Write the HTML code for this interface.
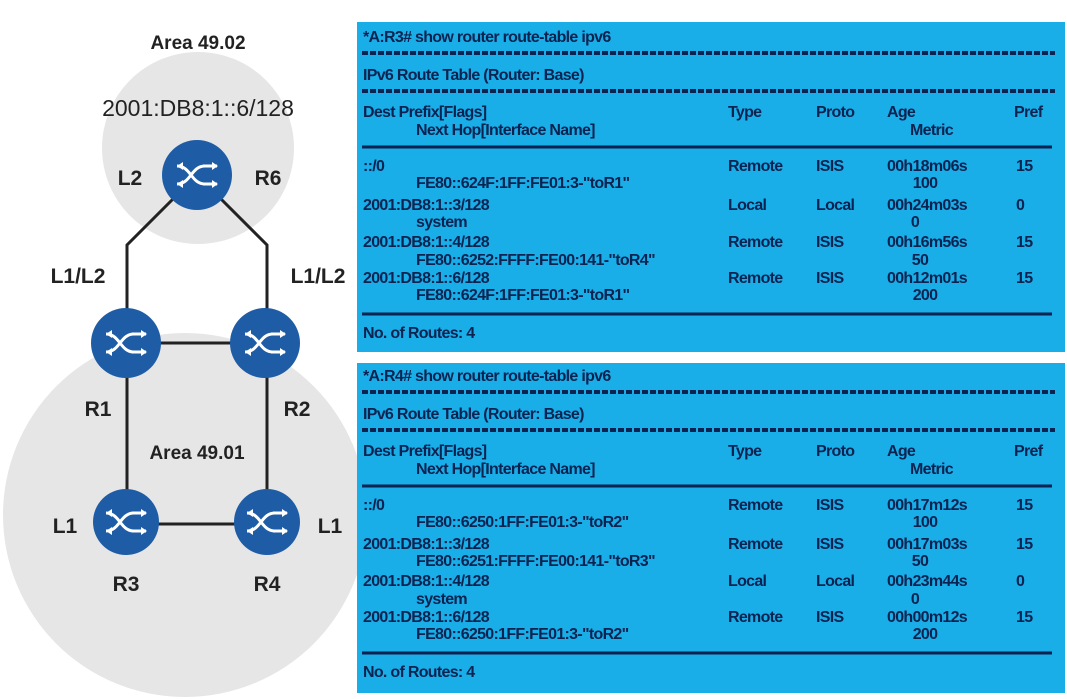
<!DOCTYPE html>
<html><head><meta charset="utf-8"><style>
html,body{margin:0;padding:0;background:#fff;}
svg{display:block}
.t{font-family:"Liberation Sans",sans-serif;font-weight:bold;font-size:16px;fill:#0b2350;letter-spacing:-0.7px}
.d{font-family:"Liberation Sans",sans-serif;font-weight:bold;fill:#222}
</style></head><body>
<svg width="1067" height="699" viewBox="0 0 1067 699" xmlns="http://www.w3.org/2000/svg">
<defs>
<g id="rt">
  <path d="M-20,-9 C-6,-9 -6,9 8,9 M-20,9 C-6,9 -6,-9 8,-9" stroke="#fff" stroke-width="3" fill="none"/>
  <path d="M20,-9 C6,-9 6,9 -8,9 M20,9 C6,9 6,-9 -8,-9" stroke="#fff" stroke-width="3" fill="none" opacity="0"/>
  <path d="M6,-9 L20,-9 M6,9 L20,9" stroke="#fff" stroke-width="3"/>
  <path d="M-20,-9 L-14,-13 L-14,-5 Z M-20,9 L-14,5 L-14,13 Z M21,-9 L15,-13 L15,-5 Z M21,9 L15,5 L15,13 Z" fill="#fff"/>
</g>
</defs>
<!-- areas -->
<circle cx="198" cy="148" r="96" fill="#e6e6e6"/>
<circle cx="185" cy="515" r="182" fill="#e6e6e6"/>
<!-- links -->
<g stroke="#222" stroke-width="3" fill="none">
<polyline points="197,175 127,245 127,343"/>
<polyline points="197,175 267,245 267,343"/>
<line x1="125" y1="343" x2="265" y2="343"/>
<line x1="127" y1="343" x2="127" y2="522"/>
<line x1="267" y1="343" x2="267" y2="522"/>
<line x1="126" y1="524" x2="267" y2="524"/>
</g>
<g fill="#1f5ca6">
<circle cx="197" cy="175" r="35"/>
<circle cx="126" cy="343" r="35"/>
<circle cx="265" cy="343" r="35"/>
<circle cx="126" cy="522" r="33"/>
<circle cx="267" cy="522" r="33"/>
</g>
<use href="#rt" x="197" y="175"/>
<use href="#rt" x="126" y="343"/>
<use href="#rt" x="265" y="343"/>
<use href="#rt" x="126" y="522"/>
<use href="#rt" x="267" y="522"/>
<text class="d" x="198" y="49" font-size="19" text-anchor="middle">Area 49.02</text>
<text class="d" x="198" y="116" font-size="23" font-weight="normal" style="font-weight:normal" text-anchor="middle">2001:DB8:1::6/128</text>
<text class="d" x="130" y="185" font-size="21" text-anchor="middle">L2</text>
<text class="d" x="268" y="185" font-size="21" text-anchor="middle">R6</text>
<text class="d" x="78" y="283" font-size="21" text-anchor="middle">L1/L2</text>
<text class="d" x="318" y="283" font-size="21" text-anchor="middle">L1/L2</text>
<text class="d" x="98" y="416" font-size="21" text-anchor="middle">R1</text>
<text class="d" x="297" y="416" font-size="21" text-anchor="middle">R2</text>
<text class="d" x="197" y="459" font-size="19" text-anchor="middle">Area 49.01</text>
<text class="d" x="65" y="533" font-size="21" text-anchor="middle">L1</text>
<text class="d" x="330" y="533" font-size="21" text-anchor="middle">L1</text>
<text class="d" x="126" y="591" font-size="21" text-anchor="middle">R3</text>
<text class="d" x="267" y="591" font-size="21" text-anchor="middle">R4</text>

<!-- panel 1 -->
<g>
<rect x="357" y="22" width="708" height="330" fill="#1aaee9"/>
<g stroke="#0b2350" fill="none">
<line x1="362" y1="53" x2="1055" y2="53" stroke-width="4" stroke-dasharray="6,2"/>
<line x1="362" y1="91" x2="1055" y2="91" stroke-width="4" stroke-dasharray="6,2"/>
<line x1="362" y1="147" x2="1052" y2="147" stroke-width="3"/>
<line x1="362" y1="314" x2="1052" y2="314" stroke-width="3"/>
</g>
<text class="t" x="363" y="42">*A:R3# show router route-table ipv6</text>
<text class="t" x="363" y="80">IPv6 Route Table (Router: Base)</text>
<text class="t" x="363" y="117">Dest Prefix[Flags]</text>
<text class="t" x="416" y="135">Next Hop[Interface Name]</text>
<text class="t" x="728" y="117">Type</text><text class="t" x="816" y="117">Proto</text><text class="t" x="887" y="117">Age</text><text class="t" x="910" y="135">Metric</text><text class="t" x="1014" y="117">Pref</text>
<text class="t" x="363" y="171">::/0</text><text class="t" x="728" y="171">Remote</text><text class="t" x="816" y="171">ISIS</text><text class="t" x="887" y="171">00h18m06s</text><text class="t" x="1016" y="171">15</text>
<text class="t" x="416" y="188">FE80::624F:1FF:FE01:3-"toR1"</text><text class="t" x="925" y="188" text-anchor="middle">100</text>
<text class="t" x="363" y="210">2001:DB8:1::3/128</text><text class="t" x="728" y="210">Local</text><text class="t" x="816" y="210">Local</text><text class="t" x="887" y="210">00h24m03s</text><text class="t" x="1016" y="210">0</text>
<text class="t" x="416" y="227">system</text><text class="t" x="915" y="227" text-anchor="middle">0</text>
<text class="t" x="363" y="247">2001:DB8:1::4/128</text><text class="t" x="728" y="247">Remote</text><text class="t" x="816" y="247">ISIS</text><text class="t" x="887" y="247">00h16m56s</text><text class="t" x="1016" y="247">15</text>
<text class="t" x="416" y="265">FE80::6252:FFFF:FE00:141-"toR4"</text><text class="t" x="920" y="265" text-anchor="middle">50</text>
<text class="t" x="363" y="283">2001:DB8:1::6/128</text><text class="t" x="728" y="283">Remote</text><text class="t" x="816" y="283">ISIS</text><text class="t" x="887" y="283">00h12m01s</text><text class="t" x="1016" y="283">15</text>
<text class="t" x="416" y="300">FE80::624F:1FF:FE01:3-"toR1"</text><text class="t" x="925" y="300" text-anchor="middle">200</text>
<text class="t" x="363" y="338">No. of Routes: 4</text>
</g>
<!-- panel 2 -->
<g transform="translate(0,339)">
<rect x="357" y="24" width="708" height="330" fill="#1aaee9"/>
<g stroke="#0b2350" fill="none">
<line x1="362" y1="53" x2="1055" y2="53" stroke-width="4" stroke-dasharray="6,2"/>
<line x1="362" y1="91" x2="1055" y2="91" stroke-width="4" stroke-dasharray="6,2"/>
<line x1="362" y1="147" x2="1052" y2="147" stroke-width="3"/>
<line x1="362" y1="314" x2="1052" y2="314" stroke-width="3"/>
</g>
<text class="t" x="363" y="42">*A:R4# show router route-table ipv6</text>
<text class="t" x="363" y="80">IPv6 Route Table (Router: Base)</text>
<text class="t" x="363" y="117">Dest Prefix[Flags]</text>
<text class="t" x="416" y="135">Next Hop[Interface Name]</text>
<text class="t" x="728" y="117">Type</text><text class="t" x="816" y="117">Proto</text><text class="t" x="887" y="117">Age</text><text class="t" x="910" y="135">Metric</text><text class="t" x="1014" y="117">Pref</text>
<text class="t" x="363" y="171">::/0</text><text class="t" x="728" y="171">Remote</text><text class="t" x="816" y="171">ISIS</text><text class="t" x="887" y="171">00h17m12s</text><text class="t" x="1016" y="171">15</text>
<text class="t" x="416" y="188">FE80::6250:1FF:FE01:3-"toR2"</text><text class="t" x="925" y="188" text-anchor="middle">100</text>
<text class="t" x="363" y="210">2001:DB8:1::3/128</text><text class="t" x="728" y="210">Remote</text><text class="t" x="816" y="210">ISIS</text><text class="t" x="887" y="210">00h17m03s</text><text class="t" x="1016" y="210">15</text>
<text class="t" x="416" y="227">FE80::6251:FFFF:FE00:141-"toR3"</text><text class="t" x="920" y="227" text-anchor="middle">50</text>
<text class="t" x="363" y="247">2001:DB8:1::4/128</text><text class="t" x="728" y="247">Local</text><text class="t" x="816" y="247">Local</text><text class="t" x="887" y="247">00h23m44s</text><text class="t" x="1016" y="247">0</text>
<text class="t" x="416" y="265">system</text><text class="t" x="915" y="265" text-anchor="middle">0</text>
<text class="t" x="363" y="283">2001:DB8:1::6/128</text><text class="t" x="728" y="283">Remote</text><text class="t" x="816" y="283">ISIS</text><text class="t" x="887" y="283">00h00m12s</text><text class="t" x="1016" y="283">15</text>
<text class="t" x="416" y="300">FE80::6250:1FF:FE01:3-"toR2"</text><text class="t" x="925" y="300" text-anchor="middle">200</text>
<text class="t" x="363" y="338">No. of Routes: 4</text>
</g>
</svg>
</body></html>
